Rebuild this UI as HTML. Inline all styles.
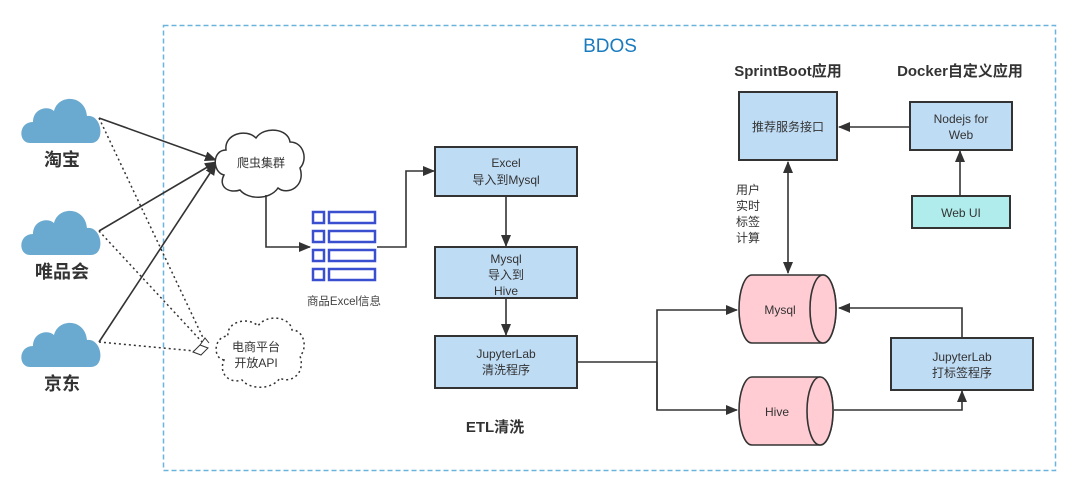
<!DOCTYPE html>
<html><head><meta charset="utf-8"><style>
html,body{margin:0;padding:0;background:#fff;}
svg{display:block;font-family:"Liberation Sans","Noto Sans CJK SC",sans-serif;}
</style></head><body>
<svg width="1080" height="495" viewBox="0 0 1080 495" xmlns="http://www.w3.org/2000/svg">
<defs>
<marker id="ar" markerWidth="12" markerHeight="10" refX="11" refY="5" orient="auto" markerUnits="userSpaceOnUse"><path d="M0,0 L12,5 L0,10 Z" fill="#333"/></marker>
<marker id="ar2" markerWidth="12" markerHeight="10" refX="1" refY="5" orient="auto" markerUnits="userSpaceOnUse"><path d="M12,0 L0,5 L12,10 Z" fill="#333"/></marker>
<g id="cl"><path d="M-32,23 C-44,23 -44,2 -29,2 C-29,-11 -15,-15 -8,-9 C-4,-26 23,-26 25,-4 C40,-6 44,23 29,23 Z" fill="#6aaad0"/></g>
</defs>
<rect x="163.5" y="25.5" width="892" height="445" fill="none" stroke="#6ab4de" stroke-width="1.5" stroke-dasharray="5,3"/>
<text x="610" y="52" font-size="19" fill="#1a7bbf" text-anchor="middle">BDOS</text>

<use href="#cl" transform="translate(62,120)"/>
<use href="#cl" transform="translate(62,232)"/>
<use href="#cl" transform="translate(62,344)"/>
<g font-size="18" font-weight="bold" fill="#333" text-anchor="middle">
<text x="62" y="166">淘宝</text><text x="62" y="278">唯品会</text><text x="62" y="390">京东</text>
</g>

<g stroke="#333" stroke-width="1.6" fill="none">
<line x1="99" y1="118" x2="216" y2="160" marker-end="url(#ar)"/>
<line x1="99" y1="231" x2="216" y2="162" marker-end="url(#ar)"/>
<line x1="99" y1="342" x2="216" y2="164" marker-end="url(#ar)"/>
</g>
<g stroke="#333" stroke-width="1.5" stroke-dasharray="2,3" fill="none">
<line x1="99" y1="118" x2="205" y2="342"/>
<line x1="99" y1="231" x2="203" y2="343"/>
<line x1="99" y1="342" x2="195" y2="351"/>
</g>
<path d="M193,352 L200,345 L208,348 L201,355 Z M200,345 L205,338 L209,343" fill="#fff" stroke="#333" stroke-width="1"/>

<path d="M224,175 C212,172 212,150 226,150 C224,134 246,128 256,138 C264,126 288,128 290,142 C304,142 308,160 300,168 C306,186 288,196 278,188 C270,200 248,200 240,190 C228,194 218,186 224,175 Z" fill="#fff" stroke="#333" stroke-width="1.5"/>
<text x="261" y="167" font-size="12" fill="#333" text-anchor="middle">爬虫集群</text>
<path d="M224,360 C212,358 214,336 228,336 C226,322 248,316 258,326 C266,314 290,316 292,330 C304,330 308,348 300,356 C306,374 290,384 280,378 C272,390 250,390 242,380 C230,384 218,374 224,360 Z" fill="#fff" stroke="#333" stroke-width="1.5" stroke-dasharray="2,3"/>
<text x="256" y="351" font-size="12" fill="#333" text-anchor="middle">电商平台</text>
<text x="256" y="367" font-size="12" fill="#333" text-anchor="middle">开放API</text>

<g stroke="#333" stroke-width="1.6" fill="none">
<polyline points="266,195 266,247 310,247" marker-end="url(#ar)"/>
<polyline points="377,247 406,247 406,171 434,171" marker-end="url(#ar)"/>
<line x1="506" y1="196" x2="506" y2="246" marker-end="url(#ar)"/>
<line x1="506" y1="298" x2="506" y2="335" marker-end="url(#ar)"/>
<polyline points="577,362 657,362"/>
<polyline points="657,410 657,310 737,310" marker-end="url(#ar)"/>
<polyline points="657,362 657,410 737,410" marker-end="url(#ar)"/>
<polyline points="962,338 962,308 839,308" marker-end="url(#ar)"/>
<polyline points="834,410 962,410 962,391" marker-end="url(#ar)"/>
<line x1="788" y1="162" x2="788" y2="273" marker-start="url(#ar2)" marker-end="url(#ar)"/>
<line x1="910" y1="127" x2="839" y2="127" marker-end="url(#ar)"/>
<line x1="960" y1="196" x2="960" y2="151" marker-end="url(#ar)"/>
</g>

<g fill="#fff" stroke="#3a4fd0" stroke-width="2.5">
<rect x="313" y="212" width="11" height="11"/><rect x="329" y="212" width="46" height="11"/>
<rect x="313" y="231" width="11" height="11"/><rect x="329" y="231" width="46" height="11"/>
<rect x="313" y="250" width="11" height="11"/><rect x="329" y="250" width="46" height="11"/>
<rect x="313" y="269" width="11" height="11"/><rect x="329" y="269" width="46" height="11"/>
</g>
<text x="344" y="305" font-size="11.5" fill="#444" text-anchor="middle">商品Excel信息</text>

<g fill="#bfdcf5" stroke="#333" stroke-width="2">
<rect x="435" y="147" width="142" height="49"/>
<rect x="435" y="247" width="142" height="51"/>
<rect x="435" y="336" width="142" height="52"/>
<rect x="891" y="338" width="142" height="52"/>
<rect x="739" y="92" width="98" height="68"/>
<rect x="910" y="102" width="102" height="48"/>
</g>
<rect x="912" y="196" width="98" height="32" fill="#b0ecec" stroke="#333" stroke-width="2"/>
<g font-size="12" fill="#333" text-anchor="middle">
<text x="506" y="167">Excel</text><text x="506" y="184">导入到Mysql</text>
<text x="506" y="263">Mysql</text><text x="506" y="279">导入到</text><text x="506" y="295">Hive</text>
<text x="506" y="358">JupyterLab</text><text x="506" y="374">清洗程序</text>
<text x="962" y="361">JupyterLab</text><text x="962" y="377">打标签程序</text>
<text x="788" y="131">推荐服务接口</text>
<text x="961" y="123">Nodejs for</text><text x="961" y="139">Web</text>
<text x="961" y="217">Web UI</text>
<text x="748" y="194">用户</text><text x="748" y="210">实时</text><text x="748" y="226">标签</text><text x="748" y="242">计算</text>
</g>
<text x="495" y="432" font-size="15" font-weight="bold" fill="#333" text-anchor="middle">ETL清洗</text>
<text x="788" y="76" font-size="15" font-weight="bold" fill="#333" text-anchor="middle">SprintBoot应用</text>
<text x="960" y="76" font-size="15" font-weight="bold" fill="#333" text-anchor="middle">Docker自定义应用</text>

<g stroke="#333" stroke-width="1.6" fill="#ffccd3">
<path d="M752,275 L823,275 A13,34 0 0 1 823,343 L752,343 A13,34 0 0 1 752,275 Z"/>
<ellipse cx="823" cy="309" rx="13" ry="34"/>
<path d="M752,377 L820,377 A13,34 0 0 1 820,445 L752,445 A13,34 0 0 1 752,377 Z"/>
<ellipse cx="820" cy="411" rx="13" ry="34"/>
</g>
<text x="780" y="314" font-size="12" fill="#333" text-anchor="middle">Mysql</text>
<text x="777" y="416" font-size="12" fill="#333" text-anchor="middle">Hive</text>
</svg>
</body></html>
